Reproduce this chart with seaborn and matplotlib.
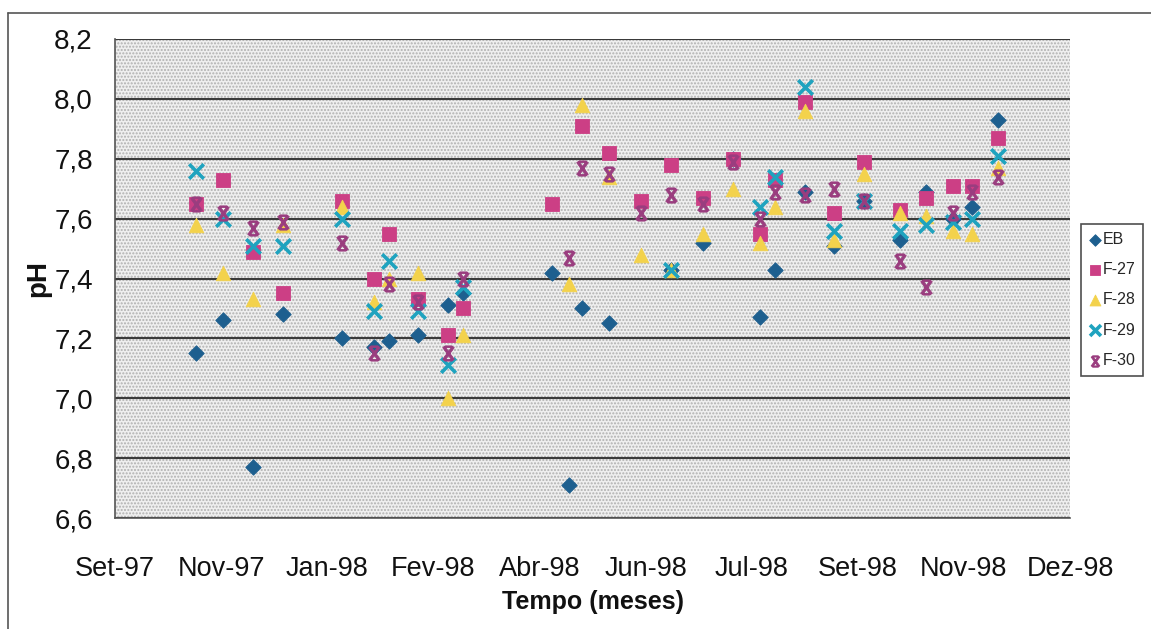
import numpy as np
import pandas as pd
import matplotlib
matplotlib.use("Agg")
import matplotlib.pyplot as plt
import matplotlib.dates as mdates
from matplotlib.path import Path
from matplotlib.patches import Rectangle
from matplotlib.lines import Line2D
import seaborn as sns

# ---------------- data ----------------
dates = ["1997-11-04", "1997-11-17", "1997-12-01", "1997-12-15", "1998-01-12",
         "1998-01-27", "1998-02-03", "1998-02-17", "1998-03-03", "1998-03-10",
         "1998-04-21", "1998-04-29", "1998-05-05", "1998-05-18", "1998-06-02",
         "1998-06-16", "1998-07-01", "1998-07-15", "1998-07-28", "1998-08-04",
         "1998-08-18", "1998-09-01", "1998-09-15", "1998-10-02", "1998-10-14",
         "1998-10-27", "1998-11-05", "1998-11-17"]
nan = np.nan
eb  = [7.15, 7.26, 6.77, 7.28, 7.20, 7.17, 7.19, 7.21, 7.31, 7.35,
       7.42, 6.71, 7.30, 7.25, nan, 7.43, 7.52, 7.80, 7.27, 7.43,
       7.69, 7.51, 7.66, 7.53, 7.69, 7.60, 7.64, 7.93]
f27 = [7.65, 7.73, 7.49, 7.35, 7.66, 7.40, 7.55, 7.33, 7.21, 7.30,
       7.65, nan, 7.91, 7.82, 7.66, 7.78, 7.67, 7.80, 7.55, 7.73,
       7.99, 7.62, 7.79, 7.63, 7.67, 7.71, 7.71, 7.87]
f28 = [7.58, 7.42, 7.33, 7.58, 7.64, 7.32, 7.40, 7.42, 7.00, 7.21,
       nan, 7.38, 7.98, 7.74, 7.48, 7.43, 7.55, 7.70, 7.52, 7.64,
       7.96, 7.53, 7.75, 7.62, 7.61, 7.56, 7.55, 7.77]
f29 = [7.76, 7.60, 7.51, 7.51, 7.60, 7.29, 7.46, 7.29, 7.11, 7.37,
       nan, nan, nan, nan, nan, 7.43, nan, nan, 7.64, 7.74,
       8.04, 7.56, 7.66, 7.56, 7.58, 7.59, 7.60, 7.81]
f30 = [7.65, 7.62, 7.57, 7.59, 7.52, 7.15, 7.38, 7.32, 7.15, 7.40,
       nan, 7.47, 7.77, 7.75, 7.62, 7.68, 7.65, 7.79, 7.60, 7.69,
       7.68, 7.70, 7.66, 7.46, 7.37, 7.62, 7.69, 7.74]
series_names = ["EB", "F-27", "F-28", "F-29", "F-30"]

axis_start = "1997-09-27"
tick_step_days = 50
tick_labels = ["Set-97", "Nov-97", "Jan-98", "Fev-98", "Abr-98",
               "Jun-98", "Jul-98", "Set-98", "Nov-98", "Dez-98"]
y_ticks = [6.6, 6.8, 7.0, 7.2, 7.4, 7.6, 7.8, 8.0, 8.2]

# ---------------- styling ----------------
sns.set_style("white")
plt.rcParams["font.family"] = ["Liberation Sans", "DejaVu Sans"]
plt.rcParams["hatch.linewidth"] = 1.0


def _bar(p0, p1, w):
    p0 = np.asarray(p0, float); p1 = np.asarray(p1, float)
    d = (p1 - p0) / np.linalg.norm(p1 - p0)
    n = np.array([-d[1], d[0]]) * w / 2
    pts = [p0 - n, p1 - n, p1 + n, p0 + n]
    area = 0.5 * sum(pts[i][0] * pts[(i + 1) % 4][1] - pts[(i + 1) % 4][0] * pts[i][1] for i in range(4))
    if area < 0:
        pts = pts[::-1]
    return pts


def star_marker():
    parts = [_bar((-0.62, -0.85), (0.62, 0.85), 0.32),
             _bar((-0.62, 0.85), (0.62, -0.85), 0.32),
             _bar((-0.45, 0.88), (0.45, 0.88), 0.22),
             _bar((-0.45, -0.88), (0.45, -0.88), 0.22)]
    verts, codes = [], []
    for p in parts:
        verts += list(p) + [p[0]]
        codes += [Path.MOVETO, Path.LINETO, Path.LINETO, Path.LINETO, Path.CLOSEPOLY]
    return Path(np.array(verts), codes)


colors = {"EB": "#1d5f8f", "F-27": "#cc3f85", "F-28": "#f3d24c",
          "F-29": "#1fa3bf", "F-30": "#9a3d7f"}
markers = {"EB": "D", "F-27": "s", "F-28": "^", "F-29": "x", "F-30": star_marker()}
sizes = {"EB": 62, "F-27": 100, "F-28": 110, "F-29": 110, "F-30": 120}

df = pd.DataFrame({"date": pd.to_datetime(dates), "EB": eb, "F-27": f27,
                   "F-28": f28, "F-29": f29, "F-30": f30})
df["x"] = mdates.date2num(df["date"])
long = df.melt(id_vars=["x"], value_vars=series_names, var_name="serie", value_name="pH").dropna()

fig = plt.figure(figsize=(11.51, 6.29), dpi=100)
ax = fig.add_axes([115 / 1151, 1 - 518 / 629, (1070 - 115) / 1151, (518 - 39) / 629])

# stippled background
ax.set_facecolor("#efefef")
bg = Rectangle((0, 0), 1, 1, transform=ax.transAxes, facecolor="#efefef",
               edgecolor="#b0b0b0", hatch=".....", linewidth=0, zorder=0)
ax.add_patch(bg)

for name in series_names:
    sub = long[long["serie"] == name]
    kw = dict(data=sub, x="x", y="pH", ax=ax, marker=markers[name], s=sizes[name],
              color=colors[name], label=name, zorder=3)
    if name == "F-29":
        kw["linewidth"] = 2.6
    else:
        kw["edgecolor"] = colors[name]
        kw["linewidth"] = 0.6
    sns.scatterplot(**kw)

x0 = mdates.date2num(pd.Timestamp(axis_start))
tick_pos = x0 + np.arange(len(tick_labels)) * tick_step_days
ax.set_xlim(tick_pos[0], tick_pos[-1])
ax.set_xticks(tick_pos)
ax.set_xticklabels(tick_labels, fontsize=19.5)
ax.set_ylim(y_ticks[0], y_ticks[-1])
ax.set_yticks(y_ticks)
ax.set_yticklabels([f"{v:.1f}".replace(".", ",") for v in y_ticks], fontsize=20)

ax.grid(axis="y", color="#3a3a3a", linewidth=1.5)
ax.grid(axis="x", visible=False)
ax.set_axisbelow(True)
for side in ["top", "right"]:
    ax.spines[side].set_visible(False)
for side in ["left", "bottom"]:
    ax.spines[side].set_color("#555555")
    ax.spines[side].set_linewidth(1.2)
ax.tick_params(axis="x", direction="out", length=7, width=1.2, color="#555555", pad=20, labelcolor="#111111")
ax.tick_params(axis="y", direction="out", length=8, width=1.2, color="#555555", pad=8, labelcolor="#111111")

ax.set_xlabel("Tempo (meses)", fontsize=18, fontweight="bold", labelpad=6, color="#111111")
ax.set_ylabel("pH", fontsize=20, fontweight="bold", labelpad=2, color="#111111")

handles, labels = ax.get_legend_handles_labels()
if ax.get_legend() is not None:
    ax.get_legend().remove()
leg = fig.legend(handles, labels, loc="center left", bbox_to_anchor=(1081 / 1151, 1 - 300 / 629),
                 bbox_transform=fig.transFigure, frameon=True, fancybox=False, edgecolor="#222222",
                 fontsize=11.5, markerscale=0.75, handlelength=0.7, handletextpad=0.15,
                 labelspacing=0.95, borderpad=0.5, borderaxespad=0)
leg.get_frame().set_linewidth(1.2)

# outer chart border (top and left visible in the scan)
fig.add_artist(Line2D([8 / 1151, 1.0], [1 - 13 / 629, 1 - 13 / 629], transform=fig.transFigure,
                      color="#555555", linewidth=1.2))
fig.add_artist(Line2D([8 / 1151, 8 / 1151], [0.0, 1 - 13 / 629], transform=fig.transFigure,
                      color="#555555", linewidth=1.2))

fig.savefig("out.png", dpi=100)
